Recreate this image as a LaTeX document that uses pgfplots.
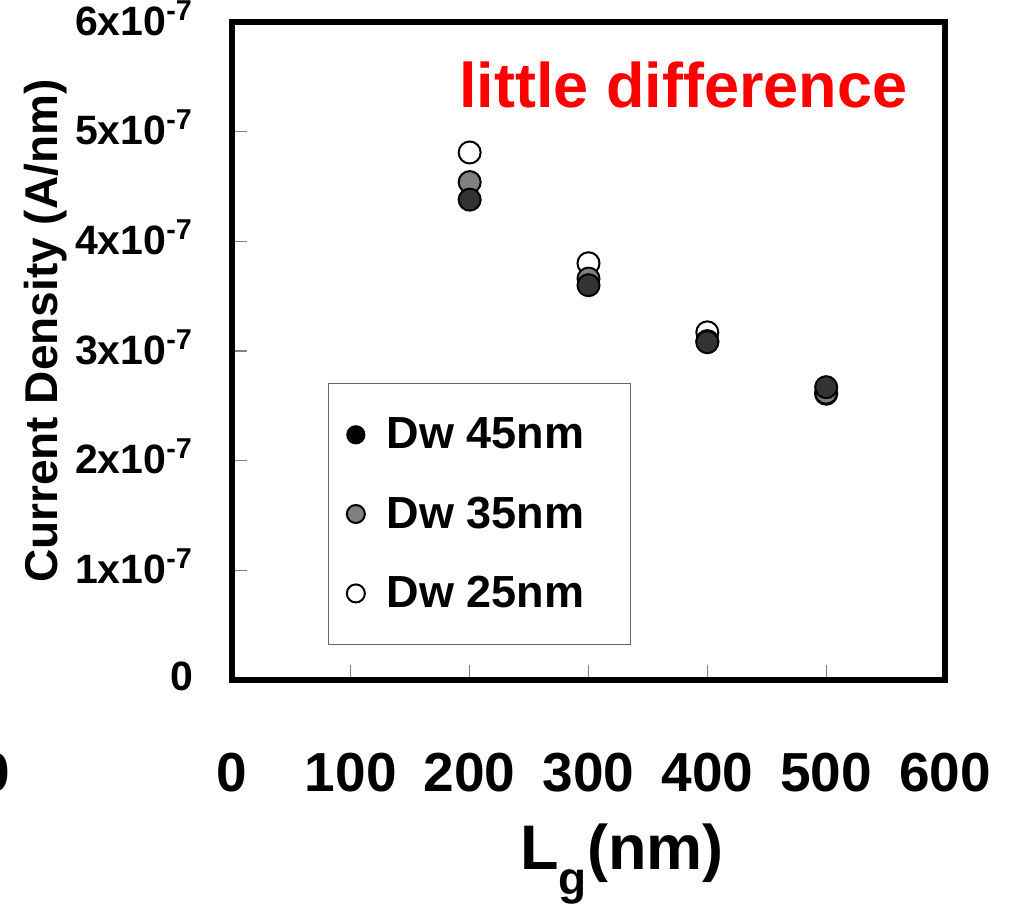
\documentclass[border=0pt]{standalone}
\usepackage{fontspec}
\setmainfont{Liberation Sans}
\usepackage{pgfplots}
\pgfplotsset{compat=1.18}
\definecolor{dotdark}{RGB}{51,51,51}
\definecolor{dotgray}{RGB}{128,128,128}
\begin{document}
\begin{tikzpicture}
\begin{axis}[
  scale only axis, width=356.5pt, height=329pt,
  xmin=0, xmax=600, ymin=0, ymax=6e-7,
  clip=false,
  axis line style={line width=3pt},
  xtick={0,100,200,300,400,500,600},
  xticklabels={0,100,200,300,400,500,600},
  ytick={0,1e-7,2e-7,3e-7,4e-7,5e-7,6e-7},
  yticklabels={0,1x10\textsuperscript{-7},2x10\textsuperscript{-7},3x10\textsuperscript{-7},4x10\textsuperscript{-7},5x10\textsuperscript{-7},6x10\textsuperscript{-7}},
  scaled y ticks=false,
  tick align=inside, xtick pos=bottom, ytick pos=left,
  major tick length=7.5pt,
  tick style={gray, line width=0.6pt},
  xticklabel style={font=\bfseries\fontsize{27.5}{30}\selectfont, yshift=-33pt},
  yticklabel style={font=\bfseries\fontsize{20.5}{22}\selectfont, xshift=-16pt, yshift=2pt},
  xlabel={L\raisebox{-0.4em}{\fontsize{23}{23}\selectfont g}(nm)},
  xlabel style={font=\bfseries\fontsize{31.5}{33}\selectfont, at={(axis description cs:0.547,-0.28)}, anchor=center},
  ylabel={Current Density (A/nm)},
  ylabel style={font=\bfseries\fontsize{23}{25}\selectfont, at={(axis description cs:-0.262,0.53)}, anchor=center},
  reverse legend,
  legend cell align=left,
  legend style={at={(rel axis cs:0.135,0.451)}, anchor=north west, draw=gray!80!black, line width=0.6pt,
    font=\bfseries\fontsize{22.5}{24}\selectfont, row sep=18.5pt, inner xsep=9pt, inner ysep=15pt},
  legend image post style={mark size=4.5pt},
]
% Dw 25nm
\addplot[only marks, mark=*, mark size=5.5pt, mark options={fill=white, draw=black, line width=1pt}] coordinates {
  (200,4.81e-7)(300,3.80e-7)(400,3.17e-7)(500,2.61e-7)
};
\addlegendentry{\makebox[120pt][l]{\hspace{9pt}Dw 25nm}}
% Dw 35nm
\addplot[only marks, mark=*, mark size=5.5pt, mark options={fill=dotgray, draw=black, line width=1pt}] coordinates {
  (200,4.54e-7)(300,3.66e-7)(400,3.09e-7)(500,2.62e-7)
};
\addlegendentry{\makebox[120pt][l]{\hspace{9pt}Dw 35nm}}
% Dw 45nm
\addplot[only marks, mark=*, mark size=5.5pt, mark options={fill=dotdark, draw=black, line width=1pt},
  legend image post style={mark options={fill=black}}] coordinates {
  (200,4.38e-7)(300,3.60e-7)(400,3.08e-7)(500,2.67e-7)
};
\addlegendentry{\makebox[120pt][l]{\hspace{9pt}Dw 45nm}}

\node[red, font=\bfseries\fontsize{31.5}{34}\selectfont] at (rel axis cs:0.633,0.904) {little difference};
\node[anchor=north, font=\bfseries\fontsize{27.5}{30}\selectfont, yshift=-33pt] at (axis cs:-200,0) {0};
\coordinate (bbsw) at (rel axis cs:0,0);
\coordinate (bbne) at (rel axis cs:1,1);
\end{axis}
\pgfresetboundingbox
\path[use as bounding box] ([shift={(-116pt,-113pt)}]bbsw) rectangle ([shift={(32.5pt,11pt)}]bbne);
\end{tikzpicture}
\end{document}
